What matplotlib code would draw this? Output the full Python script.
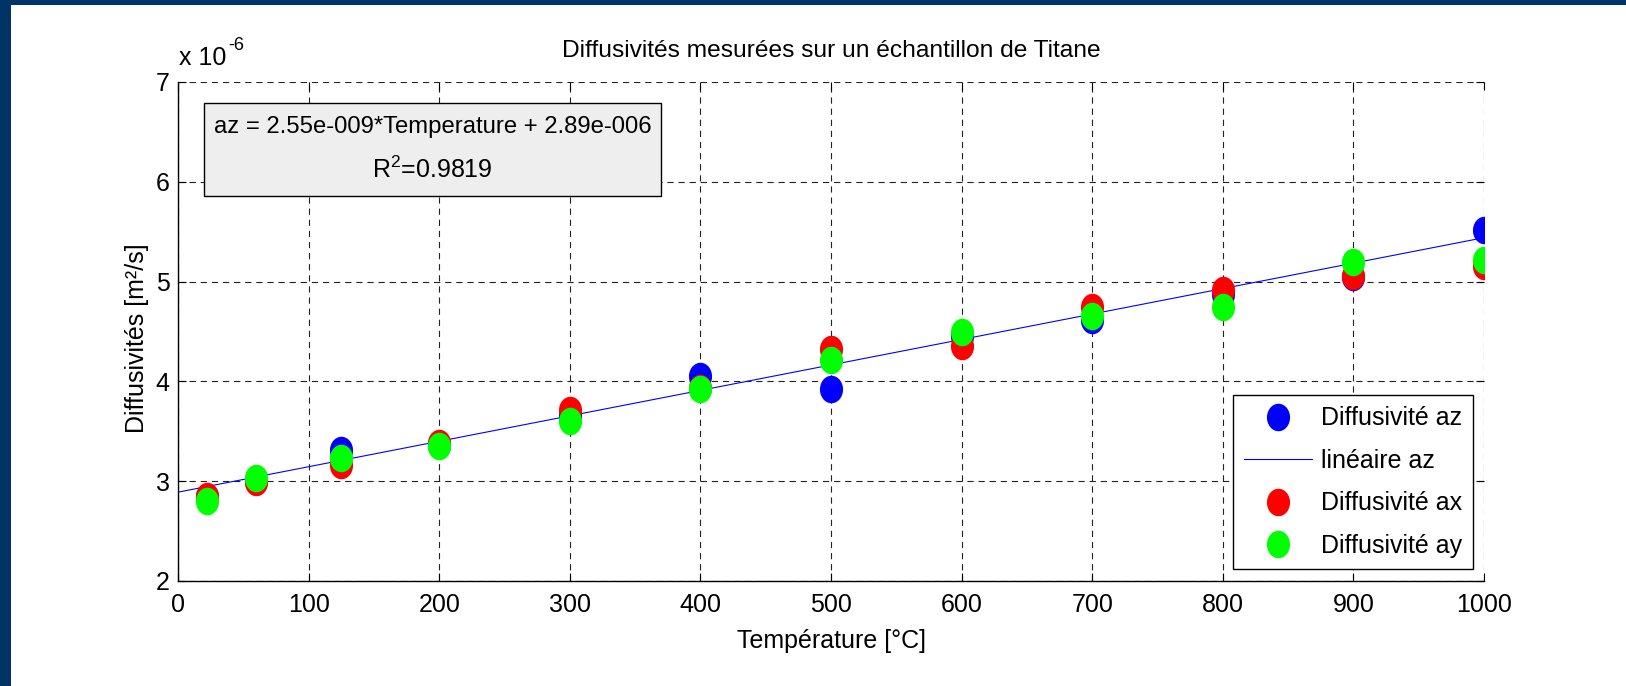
import numpy as np
import matplotlib
matplotlib.use("Agg")
import matplotlib.pyplot as plt
from matplotlib import font_manager
from matplotlib.path import Path
from matplotlib.patches import Rectangle

# ---------------- data (diffusivities in 1e-6 m^2/s) ----------------
temperature = [22, 60, 125, 200, 300, 400, 500, 600, 700, 800, 900, 1000]
diff_az = [2.84, 3.00, 3.315, 3.36, 3.65, 4.05, 3.92, 4.45, 4.62, 4.88, 5.05, 5.52]
diff_ax = [2.856, 2.99, 3.16, 3.38, 3.71, 3.93, 4.32, 4.35, 4.75, 4.92, 5.06, 5.16]
diff_ay = [2.805, 3.03, 3.23, 3.35, 3.60, 3.92, 4.21, 4.50, 4.66, 4.75, 5.20, 5.22]
fit_slope = 2.55e-9      # m^2/s per degC
fit_intercept = 2.89e-6  # m^2/s
fit_r2 = 0.9819
fit_range = [0, 1000]
x_ticks = [0, 100, 200, 300, 400, 500, 600, 700, 800, 900, 1000]
y_ticks = [2, 3, 4, 5, 6, 7]

# ---------------- fonts ----------------
names = {f.name for f in font_manager.fontManager.ttflist}
if "Liberation Sans Narrow" in names:
    FONT = "Liberation Sans Narrow"
    FS = 20
else:
    FONT = "Liberation Sans"
    FS = 18
plt.rcParams["font.family"] = [FONT, "DejaVu Sans"]
plt.rcParams["mathtext.fontset"] = "custom"
plt.rcParams["mathtext.rm"] = FONT
plt.rcParams["mathtext.it"] = FONT
plt.rcParams["mathtext.bf"] = FONT
plt.rcParams["mathtext.default"] = "rm"
plt.rcParams["lines.scale_dashes"] = False

W, H = 1626, 686
fig = plt.figure(figsize=(W / 100, H / 100), dpi=100)
fig.patch.set_facecolor("white")

# navy frame strips (top and left)
navy = "#003366"
fig.patches.append(Rectangle((0, 1 - 5 / H), 1, 5 / H, transform=fig.transFigure,
                             facecolor=navy, edgecolor="none", zorder=0))
fig.patches.append(Rectangle((0, 0), 11 / W, 1, transform=fig.transFigure,
                             facecolor=navy, edgecolor="none", zorder=0))

L, R, T, B = 178, 1484, 82, 581
ax = fig.add_axes([L / W, 1 - B / H, (R - L) / W, (B - T) / H])
axw, axh = R - L, B - T

# ellipse marker (taller than wide)
th = np.linspace(0, 2 * np.pi, 60)
ell = Path(np.column_stack([0.42 * np.cos(th), 0.5 * np.sin(th)]), closed=True)
MS = 19.8

scale = 1e-6
ax.plot(temperature, diff_az, linestyle="none", marker=ell, markersize=MS,
        markerfacecolor="#0000ff", markeredgecolor="none", label="Diffusivité az", zorder=3)
fx = np.array(fit_range, dtype=float)
fy = (fit_slope * fx + fit_intercept) / scale
ax.plot(fx, fy, color="#0000ff", lw=0.8, label="linéaire az", zorder=3.5)
ax.plot(temperature, diff_ax, linestyle="none", marker=ell, markersize=MS,
        markerfacecolor="#ff0000", markeredgecolor="none", label="Diffusivité ax", zorder=4)
ax.plot(temperature, diff_ay, linestyle="none", marker=ell, markersize=MS,
        markerfacecolor="#00ff00", markeredgecolor="none", label="Diffusivité ay", zorder=5)

ax.set_xlim(0, 1000)
ax.set_ylim(2, 7)
ax.set_xticks(x_ticks)
ax.set_yticks(y_ticks)
ax.set_xticklabels([str(v) for v in x_ticks])
ax.set_yticklabels([str(v) for v in y_ticks])
ax.tick_params(direction="in", length=6, width=0.8, labelsize=FS, pad=6,
               top=True, right=True, colors="black")
ax.tick_params(axis="x", pad=9)

for s in ["top", "right"]:
    ax.spines[s].set_visible(False)
for s in ["left", "bottom"]:
    ax.spines[s].set_linewidth(1.0)
    ax.spines[s].set_color("black")

ax.grid(True, color="#222222", lw=0.8, linestyle=(0, (4.5, 3.5)))
ax.set_axisbelow(True)

# labels
ax.set_xlabel("Température [°C]", fontsize=FS, va="top")
ax.xaxis.set_label_coords(0.5, (B - 629) / axh)
ax.set_ylabel("Diffusivités [m²/s]", fontsize=FS)
ax.yaxis.set_label_coords((149 - L) / axw, 0.487)
ax.text(0.5, (B - 57.5) / axh, "Diffusivités mesurées sur un échantillon de Titane",
        transform=ax.transAxes, ha="center", va="baseline", fontsize=FS * 0.98)
ax.text((179 - L) / axw, (B - 65) / axh, "x 10", transform=ax.transAxes,
        ha="left", va="baseline", fontsize=FS)
ax.text((228 - L) / axw, (B - 50) / axh, "-6", transform=ax.transAxes,
        ha="left", va="baseline", fontsize=FS * 0.72)

# equation box
bx0, bx1, by0, by1 = 204, 661, 103, 196
fig.patches.append(Rectangle((bx0 / W, 1 - by1 / H), (bx1 - bx0) / W, (by1 - by0) / H,
                             transform=fig.transFigure, facecolor="#eeeeee",
                             edgecolor="black", lw=1.0, zorder=10))
cx = (bx0 + bx1) / 2
eq = "az = %.2fe-009*Temperature + %.2fe-006" % (fit_slope * 1e9, fit_intercept * 1e6)
fig.text(cx / W, 1 - 133 / H, eq, ha="center", va="baseline", fontsize=FS * 0.955, zorder=11)
fig.text(cx / W, 1 - 178 / H, "R$^2$=%.4f" % fit_r2, ha="center", va="baseline",
         fontsize=FS, zorder=11)

leg = ax.legend(loc="lower right", bbox_to_anchor=((1473 - L) / axw, (B - 569) / axh),
                borderaxespad=0, fontsize=FS, frameon=True, fancybox=False,
                framealpha=1, edgecolor="black", handlelength=2.7, handletextpad=0.35,
                borderpad=0.45, labelspacing=0.74, numpoints=1)
leg.get_frame().set_linewidth(1.0)
leg.set_zorder(20)

fig.savefig("out.png", dpi=100, facecolor="white")
